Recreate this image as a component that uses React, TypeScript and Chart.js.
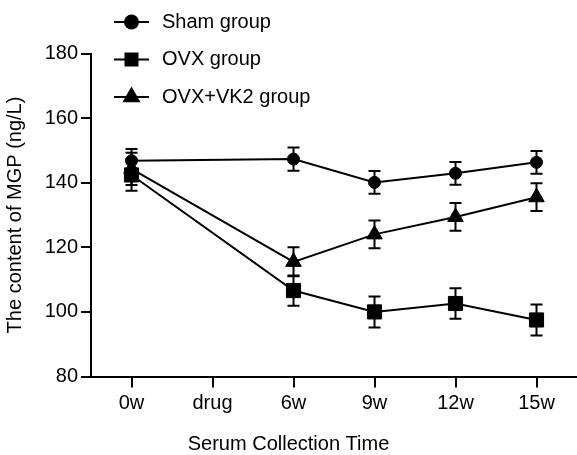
import React, { useEffect, useRef } from 'react';
import { Chart, registerables } from 'chart.js';

Chart.register(...registerables);

const categories = ['0w', 'drug', '6w', '9w', '12w', '15w'];
const seriesNames = ['Sham group', 'OVX group', 'OVX+VK2 group'];
const shamValues = [146.8, null, 147.3, 140.1, 142.9, 146.3];
const shamErrors = [3.6, null, 3.6, 3.5, 3.5, 3.5];
const ovxValues = [142.4, null, 106.6, 100.0, 102.6, 97.5];
const ovxErrors = [4.9, null, 4.7, 4.8, 4.7, 4.8];
const vk2Values = [144.3, null, 115.5, 124.0, 129.4, 135.5];
const vk2Errors = [5.0, null, 4.5, 4.3, 4.3, 4.3];
const yMin = 80;
const yMax = 180;
const yStep = 20;

const FONT = "'Liberation Sans', Arial, Helvetica, sans-serif";
const BLACK = '#000000';

const errorBarPlugin = {
  id: 'errorBars',
  afterDatasetsDraw(chart: any) {
    const { ctx } = chart;
    const xs = chart.scales.x;
    const ys = chart.scales.y;
    chart.data.datasets.forEach((ds: any) => {
      const errs: (number | null)[] = ds.errors || [];
      ds.data.forEach((v: number | null, j: number) => {
        const e = errs[j];
        if (v === null || e === null || e === undefined) return;
        const px = xs.getPixelForValue(j);
        const top = ys.getPixelForValue(v + e);
        const bot = ys.getPixelForValue(v - e);
        ctx.save();
        ctx.strokeStyle = BLACK;
        ctx.lineWidth = 2;
        ctx.beginPath();
        ctx.moveTo(px, top);
        ctx.lineTo(px, bot);
        ctx.moveTo(px - 6, top);
        ctx.lineTo(px + 6, top);
        ctx.moveTo(px - 6, bot);
        ctx.lineTo(px + 6, bot);
        ctx.stroke();
        ctx.restore();
      });
    });
  },
};

const legendPlugin = {
  id: 'customLegend',
  afterDraw(chart: any) {
    const { ctx } = chart;
    const rows = [22, 59.5, 97];
    chart.data.datasets.forEach((ds: any, i: number) => {
      const yy = rows[i];
      const cx = 131.5;
      ctx.save();
      ctx.strokeStyle = BLACK;
      ctx.fillStyle = BLACK;
      ctx.lineWidth = 2;
      ctx.beginPath();
      ctx.moveTo(114, yy);
      ctx.lineTo(149, yy);
      ctx.stroke();
      ctx.beginPath();
      if (ds.pointStyle === 'circle') {
        ctx.arc(cx, yy, 7.5, 0, Math.PI * 2);
      } else if (ds.pointStyle === 'rect') {
        ctx.rect(cx - 7, yy - 7, 14, 14);
      } else {
        const r = 10.5;
        ctx.moveTo(cx, yy - r);
        ctx.lineTo(cx + r * Math.sin((2 * Math.PI) / 3), yy + r / 2);
        ctx.lineTo(cx - r * Math.sin((2 * Math.PI) / 3), yy + r / 2);
        ctx.closePath();
      }
      ctx.fill();
      ctx.font = `20px ${FONT}`;
      ctx.textAlign = 'left';
      ctx.textBaseline = 'middle';
      ctx.fillText(ds.label, 162, yy);
      ctx.restore();
    });
  },
};

function makeDataset(label: string, data: (number | null)[], errors: (number | null)[], style: string, radius: number) {
  return {
    label,
    data,
    errors,
    borderColor: BLACK,
    backgroundColor: BLACK,
    borderWidth: 2,
    pointStyle: style,
    pointRadius: radius,
    pointHoverRadius: radius,
    pointBackgroundColor: BLACK,
    pointBorderColor: BLACK,
    pointBorderWidth: 1,
    spanGaps: true,
    tension: 0,
    clip: false,
  };
}

export default function App() {
  const ref = useRef<HTMLCanvasElement>(null);

  useEffect(() => {
    if (!ref.current) return;
    const chart = new Chart(ref.current, {
      type: 'line',
      data: {
        labels: categories,
        datasets: [
          makeDataset(seriesNames[0], shamValues, shamErrors, 'circle', 6),
          makeDataset(seriesNames[1], ovxValues, ovxErrors, 'rect', 10),
          makeDataset(seriesNames[2], vk2Values, vk2Errors, 'triangle', 9),
        ] as any,
      },
      options: {
        animation: false,
        responsive: true,
        maintainAspectRatio: false,
        layout: { autoPadding: false, padding: { top: 53.5, left: 0, right: 0, bottom: 0 } },
        plugins: {
          legend: { display: false },
          tooltip: { enabled: false },
          title: {
            display: true,
            position: 'bottom',
            text: 'Serum Collection Time',
            color: BLACK,
            font: { family: FONT, size: 20, weight: 'normal', lineHeight: 1.1 },
            padding: 0,
          },
        },
        scales: {
          x: {
            type: 'category',
            offset: true,
            grid: {
              display: true,
              drawOnChartArea: false,
              drawTicks: true,
              tickLength: 11,
              color: BLACK,
              lineWidth: 2,
            },
            border: { display: true, color: BLACK, width: 2 },
            ticks: {
              color: BLACK,
              font: { family: FONT, size: 20 },
              padding: 4,
              maxRotation: 0,
              autoSkip: false,
            },
            afterFit: (s: any) => {
              s.height = 56.5;
              s.paddingLeft = 0;
              s.paddingRight = 0;
            },
          },
          y: {
            min: yMin,
            max: yMax,
            grid: {
              display: true,
              drawOnChartArea: false,
              drawTicks: true,
              tickLength: 10,
              color: BLACK,
              lineWidth: 2,
            },
            border: { display: true, color: BLACK, width: 2 },
            ticks: {
              stepSize: yStep,
              color: BLACK,
              font: { family: FONT, size: 20 },
              padding: 3,
            },
            title: {
              display: true,
              text: 'The content of MGP (ng/L)',
              color: BLACK,
              font: { family: FONT, size: 20 },
              padding: { top: 3, bottom: 0 },
            },
            afterFit: (s: any) => {
              s.width = 91;
            },
          },
        },
      } as any,
      plugins: [errorBarPlugin, legendPlugin],
    });
    return () => chart.destroy();
  }, []);

  return (
    <div style={{ position: 'absolute', left: 0, top: 0, width: 577, height: 455 }}>
      <canvas ref={ref} />
    </div>
  );
}
